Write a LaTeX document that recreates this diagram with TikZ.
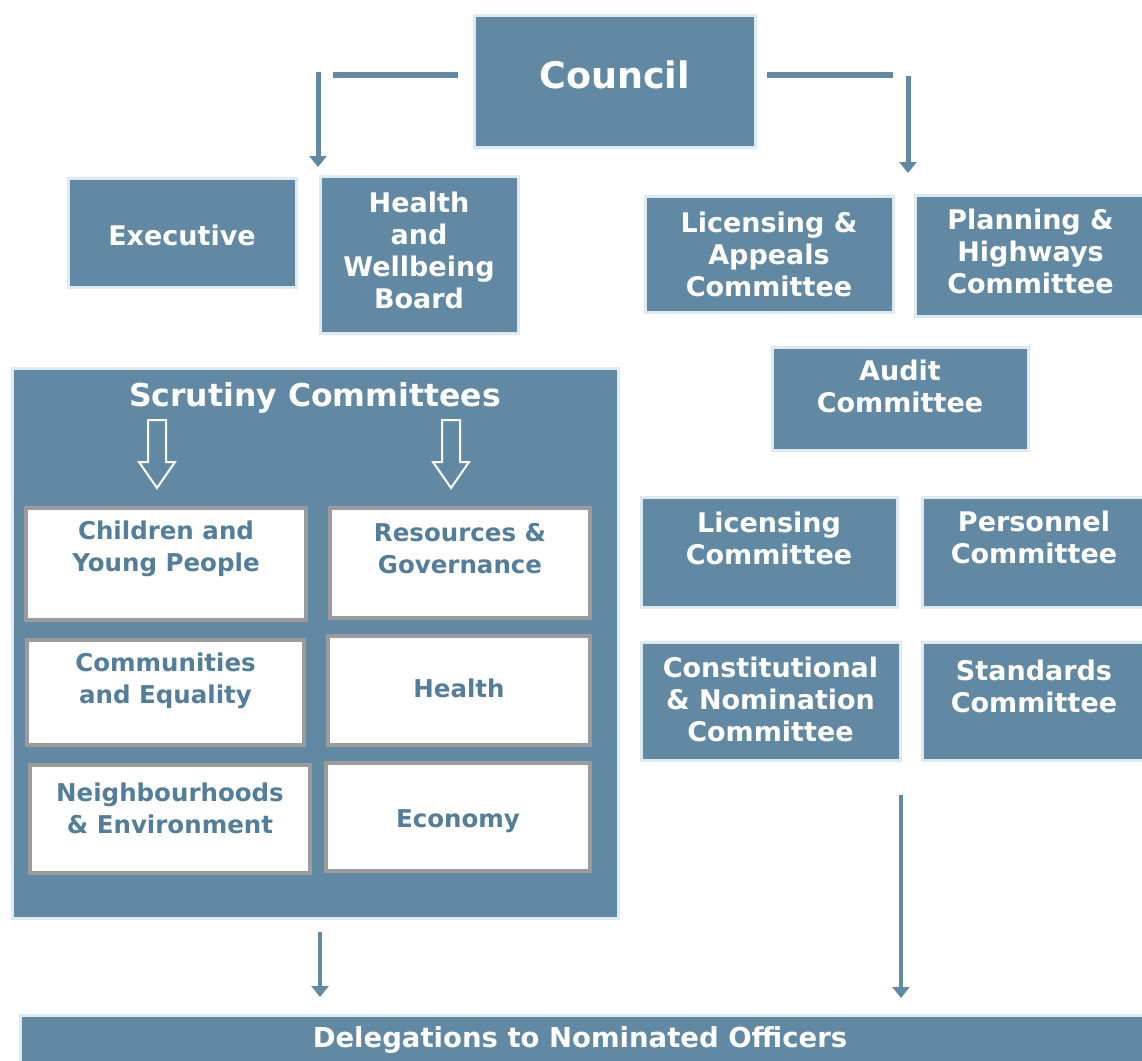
\documentclass[tikz,border=0pt]{standalone}
\usepackage{fontspec}
\setmainfont{DejaVu Sans}
\usetikzlibrary{arrows.meta}

\definecolor{slate}{RGB}{98,137,164}
\definecolor{rim}{RGB}{222,234,240}
\definecolor{frameline}{RGB}{155,155,155}
\definecolor{inktxt}{RGB}{82,125,155}

% #1 box style, #2 label style, #3 name, #4 x1, #5 y1, #6 x2, #7 y2, #8 label y, #9 text
\newcommand\orgbox[9]{%
  \node[#1, minimum width={(#6-#4)*1pt}, minimum height={(#7-#5)*1pt}]
    (#3) at ({(#4+#6)/2},{(#5+#7)/2}) {};
  \node[#2] (#3-txt) at ({(#4+#6)/2},#8) {#9};
}

\begin{document}
\begin{tikzpicture}[x=1pt,y=-1pt,
  bluebox/.style={fill=slate, draw=rim, line width=3pt, inner sep=0pt},
  whitebox/.style={fill=white, draw=frameline, line width=4pt, inner sep=0pt},
  lbl/.style={text=white, font=\bfseries\fontsize{27}{32}\selectfont, align=center, inner sep=0pt},
  wlbl/.style={text=inktxt, font=\bfseries\fontsize{24.5}{32}\selectfont, align=center, inner sep=0pt},
  link/.style={draw=slate, line width=5pt},
  arrowlink/.style={link, -{Triangle[length=11pt,width=17pt]}},
  hollow/.style={draw=white, line width=2pt, line join=miter}
]
\useasboundingbox (0,0) rectangle (1142,1060);
\clip (0,0) rectangle (1142,1060);
\fill[white] (0,0) rectangle (1142,1060);

% Council and its two branches
\orgbox{bluebox}{lbl,font=\bfseries\fontsize{36.5}{40}\selectfont}{council}{474}{15}{755}{147}{75}{Council}
\coordinate (cL1) at (458,75);
\coordinate (cL2) at (333,75);
\coordinate (cL3) at (318,72);
\coordinate (cL4) at (318,167);
\coordinate (cR1) at (767,75);
\coordinate (cR2) at (893,75);
\coordinate (cR3) at (908,76);
\coordinate (cR4) at (908,173);
\draw[link, line width=6pt] (cL1) -- (cL2);
\draw[arrowlink] (cL3) -- (cL4);
\draw[link, line width=6pt] (cR1) -- (cR2);
\draw[arrowlink] (cR3) -- (cR4);

% Executive side
\orgbox{bluebox}{lbl}{exec}{68}{178}{296}{287}{235}{Executive}
\orgbox{bluebox}{lbl}{hwb}{320}{176}{518}{333}{250}{Health\\and\\Wellbeing\\Board}

% Regulatory committees
\orgbox{bluebox}{lbl}{lapp}{645}{196}{893}{312}{254}{Licensing \&\\Appeals\\Committee}
\orgbox{bluebox}{lbl}{plan}{915}{195}{1146}{316}{251}{Planning \&\\Highways\\Committee}
\orgbox{bluebox}{lbl}{audit}{772}{347}{1028}{450}{386}{Audit\\Committee}
\orgbox{bluebox}{lbl}{licc}{641}{497}{897}{607}{538}{Licensing\\Committee}
\orgbox{bluebox}{lbl}{pers}{922}{497}{1146}{607}{537}{Personnel\\Committee}
\orgbox{bluebox}{lbl}{const}{641}{642}{900}{760}{699}{Constitutional\\\& Nomination\\Committee}
\orgbox{bluebox}{lbl}{stand}{922}{642}{1146}{760}{686}{Standards\\Committee}

% Scrutiny panel
\orgbox{bluebox}{lbl,font=\bfseries\fontsize{31.5}{36}\selectfont}{scr}{12}{368}{618}{918}{398}{Scrutiny Committees}
\draw[hollow] (148,420) -- (166,420) -- (166,462) -- (175,462) -- (157,488)
  -- (139,462) -- (148,462) -- cycle;
\draw[hollow] (442,420) -- (460,420) -- (460,462) -- (469,462) -- (451,488)
  -- (433,462) -- (442,462) -- cycle;

\orgbox{whitebox}{wlbl}{cyp}{26}{508}{306}{620}{549}{Children and\\Young People}
\orgbox{whitebox}{wlbl}{resg}{330}{508}{590}{618}{549}{Resources \&\\Governance}
\orgbox{whitebox}{wlbl}{comeq}{27}{640}{304}{745}{681}{Communities\\and Equality}
\orgbox{whitebox}{wlbl}{hlth}{328}{636}{590}{745}{688}{Health}
\orgbox{whitebox}{wlbl}{neigh}{30}{765}{310}{873}{808}{Neighbourhoods\\\& Environment}
\orgbox{whitebox}{wlbl}{econ}{326}{763}{590}{871}{821}{Economy}

% Delegations bar
\orgbox{bluebox}{lbl,xshift=-10pt,font=\bfseries\fontsize{27.5}{30}\selectfont}{deleg}{20}{1015}{1160}{1080}{1040}{Delegations to Nominated Officers}

\coordinate (dA1) at (320,932);
\coordinate (dA2) at (320,997);
\coordinate (dB1) at (901,795);
\coordinate (dB2) at (901,998);
\draw[arrowlink, line width=4pt] (dA1) -- (dA2);
\draw[arrowlink, line width=4pt] (dB1) -- (dB2);
\end{tikzpicture}
\end{document}
